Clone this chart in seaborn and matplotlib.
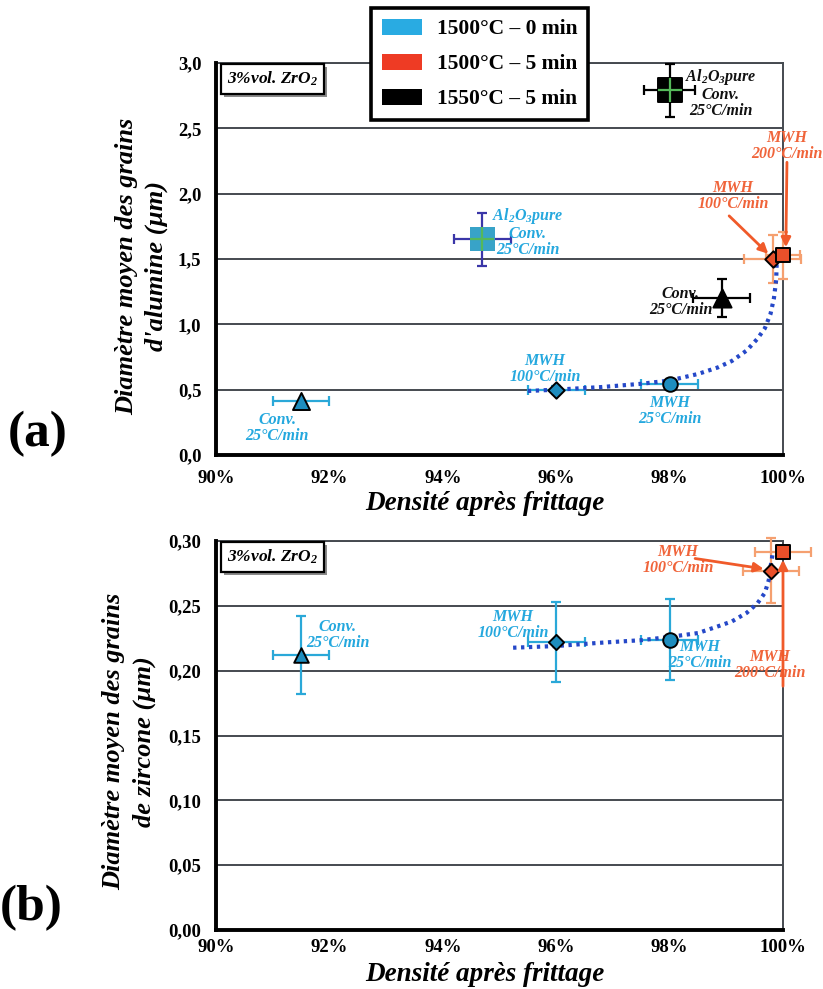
import numpy as np
import pandas as pd
import matplotlib
matplotlib.use("Agg")
import matplotlib.pyplot as plt
import seaborn as sns
from matplotlib.patches import Patch, Rectangle
from matplotlib.ticker import FuncFormatter, MultipleLocator

# ---------------- data ----------------
# panel (a): alumina grain size
a_x = [91.5, 96.0, 98.0, 94.7, 99.82, 100.0, 98.92, 98.0]
a_y = [0.41, 0.50, 0.54, 1.65, 1.50, 1.53, 1.20, 2.79]
a_xerr = [0.5, 0.5, 0.5, 0.5, 0.5, 0.3, 0.5, 0.45]
a_yerr = [0.0, 0.03, 0.0, 0.20, 0.18, 0.18, 0.145, 0.20]
a_group = ["b", "b", "b", "bp", "r", "r", "k", "kp"]
a_marker = ["^", "D", "o", "s", "D", "s", "^", "s"]
a_size = [150, 70, 110, 300, 70, 90, 170, 300]

a_trend_x = [95.5, 96.0, 96.8, 97.5, 98.0, 98.5, 98.85, 99.1, 99.36, 99.55,
             99.68, 99.78, 99.84, 99.88, 99.89]
a_trend_y = [0.49, 0.50, 0.52, 0.545, 0.57, 0.62, 0.67, 0.72, 0.80, 0.89,
             0.97, 1.08, 1.20, 1.34, 1.49]

# panel (b): zirconia grain size
b_x = [91.5, 96.0, 98.0, 99.79, 100.0]
b_y = [0.212, 0.222, 0.224, 0.277, 0.2915]
b_xerr = [0.5, 0.5, 0.5, 0.5, 0.5]
b_yerr = [0.03, 0.031, 0.031, 0.025, 0.0]
b_group = ["b", "b", "b", "r", "r"]
b_marker = ["^", "D", "o", "D", "s"]
b_size = [110, 60, 110, 60, 90]

b_trend_x = [95.24, 96.0, 96.77, 97.5, 98.0, 98.5, 98.84, 99.1, 99.36, 99.55,
             99.68, 99.75, 99.77, 99.8, 99.82]
b_trend_y = [0.2177, 0.219, 0.2215, 0.2235, 0.226, 0.229, 0.234, 0.238, 0.2446,
             0.252, 0.26, 0.27, 0.278, 0.285, 0.2915]

legend_labels = ["1500°C – 0 min", "1500°C – 5 min", "1550°C – 5 min"]
legend_colors = ["#29ABE2", "#EE3B24", "#000000"]

pure_lbl = "Al$\\mathregular{_2}$O$\\mathregular{_3}$pure\nConv.\n25°C/min"
a_ann_text = ["Conv.\n25°C/min", "MWH\n100°C/min", "MWH\n25°C/min", pure_lbl,
              "Conv.\n25°C/min", pure_lbl, "MWH\n200°C/min", "MWH\n100°C/min"]
a_ann_x = [91.08, 95.8, 98.0, 95.5, 98.2, 98.9, 100.07, 99.12]
a_ann_y = [0.21, 0.655, 0.34, 1.71, 1.17, 2.77, 2.365, 1.98]
a_ann_c = ["b", "b", "b", "b", "k", "k", "r", "r"]

b_ann_text = ["Conv.\n25°C/min", "MWH\n100°C/min", "MWH\n25°C/min",
              "MWH\n100°C/min", "MWH\n200°C/min"]
b_ann_x = [92.15, 95.24, 98.54, 98.15, 99.77]
b_ann_y = [0.2277, 0.2354, 0.212, 0.285, 0.204]
b_ann_c = ["b", "b", "b", "r", "r"]

# arrows (tail -> head)
a_arrows = [((99.05, 1.83), (99.74, 1.54)), ((100.07, 2.24), (100.05, 1.59))]
b_arrows = [((98.45, 0.2865), (99.66, 0.2785)), ((100.0, 0.188), (100.0, 0.2855))]

# ---------------- style ----------------
sns.set_theme(style="white")
plt.rcParams["font.family"] = ["Liberation Serif", "DejaVu Serif"]
plt.rcParams["font.weight"] = "bold"
plt.rcParams["mathtext.default"] = "regular"
for k in ["text.color", "axes.labelcolor", "xtick.color", "ytick.color"]:
    plt.rcParams[k] = "black"

fill = {"b": "#1E8DBE", "bp": "#38A3C8", "r": "#E9502A", "k": "#000000", "kp": "#000000"}
ecol = {"b": "#2AA8D8", "bp": "#3A36A8", "r": "#F5A070", "k": "#000000", "kp": "#000000"}
tcol = {"b": "#25A8DE", "k": "#111111", "r": "#F0643A"}
grid_c = "#454a50"
trend_c = "#2548C8"
arrow_c = "#F05A2A"

fig = plt.figure(figsize=(8.23, 9.89), dpi=100)
fig.patch.set_facecolor("white")
axA = fig.add_axes([216 / 823, 1 - 455 / 989, 567 / 823, 392 / 989])
axB = fig.add_axes([216 / 823, 1 - 930 / 989, 567 / 823, 389 / 989])


def style(ax, ymax, ystep, ndec, xpad):
    ax.set_xlim(90, 100)
    ax.set_ylim(0, ymax)
    ax.xaxis.set_major_locator(MultipleLocator(2))
    ax.yaxis.set_major_locator(MultipleLocator(ystep))
    ax.xaxis.set_major_formatter(FuncFormatter(lambda v, p: f"{v:.0f}%"))
    ax.yaxis.set_major_formatter(
        FuncFormatter(lambda v, p: f"{v:.{ndec}f}".replace(".", ",")))
    ax.grid(False)
    for t in ax.yaxis.get_major_locator().tick_values(0, ymax):
        if 0 < t <= ymax + 1e-9:
            ax.axhline(t, color=grid_c, lw=1.4, zorder=0.5)
    for s in ["left", "bottom"]:
        ax.spines[s].set_color("black")
        ax.spines[s].set_linewidth(2.8)
        ax.spines[s].set_zorder(6)
    for s in ["top", "right"]:
        ax.spines[s].set_color(grid_c)
        ax.spines[s].set_linewidth(1.4)
    ax.tick_params(direction="inout", length=11, width=2, colors="black",
                   labelsize=13.5, pad=5)
    ax.tick_params(axis="x", pad=xpad)


def draw_points(ax, xs, ys, xe, ye, grp, mk, sz):
    df = pd.DataFrame({"x": xs, "y": ys, "xe": xe, "ye": ye,
                       "g": grp, "m": mk, "s": sz})
    for _, r in df.iterrows():
        ax.errorbar(r.x, r.y, xerr=r.xe if r.xe > 0 else None,
                    yerr=r.ye if r.ye > 0 else None, fmt="none",
                    ecolor=ecol[r.g], elinewidth=1.6, capsize=3.5,
                    capthick=1.6, zorder=3, clip_on=False)
    for _, r in df.iterrows():
        edge = "none" if r.g == "bp" else "black"
        sns.scatterplot(x=[r.x], y=[r.y], ax=ax, marker=r.m, s=r.s,
                        color=fill[r.g], edgecolor=edge, linewidth=1.4,
                        zorder=5, clip_on=False, legend=False)
        if r.g in ("bp", "kp"):
            sns.scatterplot(x=[r.x], y=[r.y], ax=ax, marker="+", s=r.s,
                            color="#55B85A", linewidth=1.6, zorder=6,
                            clip_on=False, legend=False)


def draw_text(ax, texts, xs, ys, cs):
    for t, x, y, c in zip(texts, xs, ys, cs):
        ax.text(x, y, t, color=tcol[c], fontsize=11.5, fontstyle="italic",
                fontweight="bold", ha="center", va="center", linespacing=1.0,
                zorder=7, clip_on=False)


def draw_arrows(ax, arrows):
    for (tx, ty), (hx, hy) in arrows:
        ax.annotate("", xy=(hx, hy), xytext=(tx, ty),
                    arrowprops=dict(arrowstyle="-|>", color=arrow_c, lw=2.0,
                                    mutation_scale=14, shrinkA=0, shrinkB=0),
                    annotation_clip=False, zorder=7)


def tag_box(ax):
    return ax.text(0.02, 0.983, "3%vol. ZrO$\\mathregular{_2}$",
                   transform=ax.transAxes, color="black", fontsize=12.5,
                   fontstyle="italic", fontweight="bold", va="top", ha="left",
                   zorder=8,
                   bbox=dict(boxstyle="square,pad=0.35", fc="white", ec="black",
                             lw=1.6))


# ---------------- panel (a) ----------------
style(axA, 3.0, 0.5, 1, 5)
sns.lineplot(x=a_trend_x, y=a_trend_y, ax=axA, sort=False, estimator=None,
             color=trend_c, lw=3, linestyle=(0, (0.8, 1.1)), zorder=4)
draw_points(axA, a_x, a_y, a_xerr, a_yerr, a_group, a_marker, a_size)
draw_text(axA, a_ann_text, a_ann_x, a_ann_y, a_ann_c)
draw_arrows(axA, a_arrows)
tagA = tag_box(axA)
axA.set_xlabel("Densité après frittage", fontsize=19.5, fontstyle="italic",
               fontweight="bold")
axA.xaxis.set_label_coords(0.474, -0.093)
axA.set_ylabel("Diamètre moyen des grains\nd'alumine (µm)", fontsize=19,
               fontstyle="italic", fontweight="bold", linespacing=1.4)
axA.yaxis.set_label_coords(-0.084, 0.482)

# ---------------- panel (b) ----------------
style(axB, 0.30, 0.05, 2, 1)
sns.lineplot(x=b_trend_x, y=b_trend_y, ax=axB, sort=False, estimator=None,
             color=trend_c, lw=3, linestyle=(0, (0.8, 1.1)), zorder=4)
draw_points(axB, b_x, b_y, b_xerr, b_yerr, b_group, b_marker, b_size)
draw_text(axB, b_ann_text, b_ann_x, b_ann_y, b_ann_c)
draw_arrows(axB, b_arrows)
tagB = tag_box(axB)
axB.set_xlabel("Densité après frittage", fontsize=19.5, fontstyle="italic",
               fontweight="bold")
axB.xaxis.set_label_coords(0.474, -0.082)
axB.set_ylabel("Diamètre moyen des grains\nde zircone (µm)", fontsize=19,
               fontstyle="italic", fontweight="bold", linespacing=1.4)
axB.yaxis.set_label_coords(-0.106, 0.485)

# ---------------- legend & panel tags ----------------
handles = [Patch(facecolor=c, edgecolor="none") for c in legend_colors]
leg = fig.legend(handles, legend_labels, loc="upper left",
                 bbox_to_anchor=(371 / 823, 1 - 8 / 989), frameon=True,
                 fancybox=False, edgecolor="black", framealpha=1,
                 prop=dict(family=["Liberation Serif"], weight="bold", size=15.5),
                 handlelength=1.85, handleheight=0.75, labelspacing=0.68,
                 borderpad=0.5, handletextpad=0.7, borderaxespad=0)
leg.get_frame().set_linewidth(2.6)
leg.set_zorder(20)

fig.text(8 / 823, 1 - 434 / 989, "(a)", fontsize=37, fontweight="bold",
         ha="left", va="center", color="black")
fig.text(0 / 823, 1 - 908 / 989, "(b)", fontsize=37, fontweight="bold",
         ha="left", va="center", color="black")

# drop shadow under the "3%vol. ZrO2" boxes
fig.canvas.draw()
inv = fig.transFigure.inverted()
for ax, t in [(axA, tagA), (axB, tagB)]:
    bb = t.get_bbox_patch().get_window_extent()
    (x0, y0), (x1, y1) = inv.transform([[bb.x0 + 3, bb.y0 - 3],
                                        [bb.x1 + 3, bb.y1 - 3]])
    ax.add_patch(Rectangle((x0, y0), x1 - x0, y1 - y0, transform=fig.transFigure,
                           fc="#8a8a8a", ec="none", zorder=7.5, clip_on=False))

fig.savefig("out.png", dpi=100, facecolor="white")
